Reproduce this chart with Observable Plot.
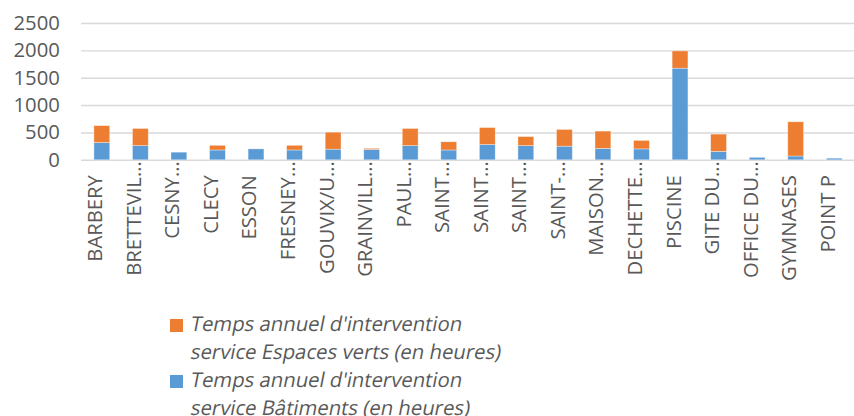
<!DOCTYPE html>
<html>
<head>
<meta charset="utf-8">
<script src="https://cdn.jsdelivr.net/npm/d3@7"></script>
<script src="https://cdn.jsdelivr.net/npm/@observablehq/plot@0.6"></script>
<style>
  html, body { margin: 0; padding: 0; background: #fff; overflow: hidden; }
  #wrap { position: relative; width: 854px; height: 416px; overflow: hidden; }
  #chart { position: absolute; left: 0; top: 0; }
  .leg { position: absolute; left: 170px; font-family: "Open Sans", sans-serif; font-style: normal;
         font-size: 20.3px; line-height: 28px; color: #595959; }
  .leg .sw { position: absolute; left: 0; top: 10px; width: 13px; height: 13px; }
  .leg .ln { position: absolute; left: 20px; white-space: nowrap; transform: skewX(-11deg); transform-origin: 0 21px; }
</style>
</head>
<body>
<div id="wrap">
  <div id="chart"></div>
  <div class="leg" style="top:308.5px">
    <div class="sw" style="background:#ED7D31"></div>
    <div class="ln" style="top:0">Temps annuel d'intervention</div>
    <div class="ln" style="top:28px">service Espaces verts (en heures)</div>
  </div>
  <div class="leg" style="top:364.5px">
    <div class="sw" style="background:#5B9BD5"></div>
    <div class="ln" style="top:0">Temps annuel d'intervention</div>
    <div class="ln" style="top:28px">service Bâtiments (en heures)</div>
  </div>
</div>
<script>
const labels = ["BARBERY","BRETTEVIL…","CESNY…","CLECY","ESSON","FRESNEY…","GOUVIX/U…","GRAINVILL…","PAUL…","SAINT…","SAINT…","SAINT…","SAINT-…","MAISON…","DECHETTE…","PISCINE","GITE DU…","OFFICE DU…","GYMNASES","POINT P"];
const batiments    = [315, 260, 140, 180, 200, 180, 195, 190, 260, 180, 280, 260, 250, 210, 200, 1675, 155, 45, 70, 30];
const espacesVerts = [310, 313,   0,  85,   0,  85, 310,  20, 313, 150, 310, 165, 305, 315, 155,  315, 315,  0, 625, 0];
const yTicks = [0, 500, 1000, 1500, 2000, 2500];
const S_EV = "Temps annuel d'intervention service Espaces verts (en heures)";
const S_BAT = "Temps annuel d'intervention service Bâtiments (en heures)";

const idx = labels.map((d, i) => i);
const rows = [];
idx.forEach(i => {
  rows.push({i, serie: S_BAT, v: batiments[i]});
  rows.push({i, serie: S_EV, v: espacesVerts[i]});
});
const truncated = idx.filter(i => labels[i].endsWith("…"));
const full = idx.filter(i => !labels[i].endsWith("…"));

const chart = Plot.plot({
  width: 864,
  height: 310,
  marginLeft: 82,
  marginRight: 0,
  marginTop: 23.3,
  marginBottom: 148.3,
  style: {fontFamily: "Open Sans", fontSize: "20.5px", color: "#595959", background: "transparent", overflow: "visible"},
  x: {type: "band", domain: idx, paddingInner: 0.59, paddingOuter: 0.295, axis: null},
  y: {domain: [0, 2500], ticks: yTicks, tickSize: 0, tickPadding: 22, label: null, tickFormat: d => String(d)},
  color: {domain: [S_BAT, S_EV], range: ["#5B9BD5", "#ED7D31"]},
  marks: [
    Plot.ruleY(yTicks, {stroke: "#D9D9D9", strokeWidth: 1.5}),
    Plot.barY(rows, Plot.stackY({x: "i", y: "v", fill: "serie", order: [S_BAT, S_EV], stroke: "white", strokeWidth: 0.7, strokeOpacity: 0.5})),
    Plot.text(full, {x: d => d, text: d => labels[d], frameAnchor: "bottom", rotate: -90, textAnchor: "end", dy: 15, fill: "#595959", fontSize: 20.5}),
    Plot.text(truncated, {x: d => d, text: d => labels[d], frameAnchor: "bottom", rotate: -90, textAnchor: "end", dy: 1, fill: "#595959", fontSize: 20.5})
  ]
});
document.getElementById("chart").appendChild(chart);
</script>
</body>
</html>
